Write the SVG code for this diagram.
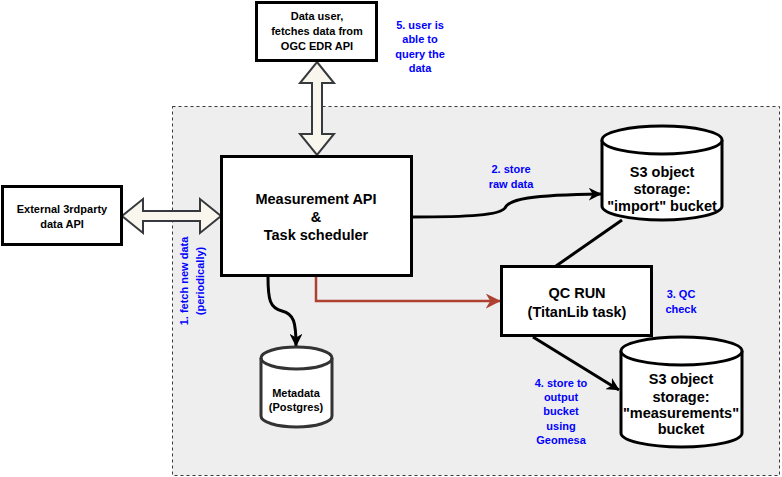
<svg xmlns="http://www.w3.org/2000/svg" width="782" height="477" viewBox="0 0 782 477">
<style>
text{font-family:"Liberation Sans",Arial,sans-serif;font-weight:bold;text-anchor:middle;}
.box{fill:#ffffff;stroke:#000000;stroke-width:3;}
.cyl{fill:#ffffff;stroke:#000000;stroke-width:3;}
.t11{font-size:11px;fill:#000000;}
.t14{font-size:14.5px;fill:#000000;}
.lbl{font-size:11px;fill:#0000ff;}
.dbl{fill:#f9f7ed;stroke:#36393d;stroke-width:2;stroke-linejoin:miter;}
.edge{fill:none;stroke:#000000;stroke-width:3;}
</style>
<defs>
<marker id="ah" viewBox="0 0 10 10" refX="9.5" refY="5" markerWidth="4.3" markerHeight="4.3" orient="auto" markerUnits="strokeWidth">
<path d="M0,0 L10,5 L0,10 L3,5 Z" fill="#000000"/>
</marker>
<marker id="ahr" viewBox="0 0 10 10" refX="9.5" refY="5" markerWidth="6" markerHeight="6" orient="auto" markerUnits="strokeWidth">
<path d="M0,0 L10,5 L0,10 L3,5 Z" fill="#ae4132"/>
</marker>
</defs>
<rect id="container" x="172.5" y="106.5" width="607" height="369" fill="#eeeeee" stroke="#36393d" stroke-width="1" stroke-dasharray="3,3"/>

<g id="connectors">
<polygon class="dbl" points="317,62 334,83 322,83 322,134 334,134 317,155 300,134 312,134 312,83 300,83"/>
<polygon class="dbl" points="122,216 143,199 143,211 200,211 200,199 221,216 200,233 200,221 143,221 143,233"/>
<path class="edge" d="M412,217 C470,217 500,215 505,208 C509,199 530,195 601,194" marker-end="url(#ah)"/>
<path class="edge" d="M622,220 L556,266"/>
<path d="M316,276 L316,301 L500,301" fill="none" stroke="#ae4132" stroke-width="2.5" marker-end="url(#ahr)"/>
<path class="edge" d="M268,277 C268,300 270,308 282,311 C294,314 296,322 296,346" marker-end="url(#ah)"/>
<path class="edge" d="M533,337 L619,390" marker-end="url(#ah)"/>
</g>

<g id="data-user">
<rect class="box" x="256.5" y="2.5" width="120" height="58"/>
<text class="t11" x="317" y="20">Data user,</text>
<text class="t11" x="317" y="35">fetches data from</text>
<text class="t11" x="317" y="50">OGC EDR API</text>
</g>

<g id="external-api">
<rect class="box" x="2.5" y="186.5" width="119" height="58"/>
<text class="t11" x="62" y="213">External 3rdparty</text>
<text class="t11" x="62" y="228">data API</text>
</g>

<g id="measurement-api">
<rect class="box" x="221.5" y="156.5" width="190" height="119"/>
<text class="t14" x="316" y="204">Measurement API</text>
<text class="t14" x="316" y="222">&amp;</text>
<text class="t14" x="316" y="240">Task scheduler</text>
</g>

<g id="s3-import">
<path class="cyl" d="M602,140 A60,14 0 0 1 722,140 L722,206 A60,14 0 0 1 602,206 Z"/>
<path class="cyl" d="M602,140 A60,14 0 0 0 722,140" fill="none"/>
<text class="t14" x="662" y="177">S3 object</text>
<text class="t14" x="662" y="194">storage:</text>
<text class="t14" x="662" y="211">"import" bucket</text>
</g>

<g id="qc-run">
<rect class="box" x="501.5" y="266.5" width="150" height="69"/>
<text class="t14" x="577" y="298">QC RUN</text>
<text class="t14" x="577" y="317">(TitanLib task)</text>
</g>

<g id="s3-measurements">
<path class="cyl" d="M621,351 A60.5,14 0 0 1 742,351 L742,433 A60.5,14 0 0 1 621,433 Z"/>
<path class="cyl" d="M621,351 A60.5,14 0 0 0 742,351" fill="none"/>
<text class="t14" x="681" y="384">S3 object</text>
<text class="t14" x="681" y="402">storage:</text>
<text class="t14" x="681" y="418">"measurements"</text>
<text class="t14" x="681" y="434">bucket</text>
</g>

<g id="metadata">
<path d="M261,358 A35.5,11 0 0 1 332,358 L332,416 A35.5,11 0 0 1 261,416 Z" fill="#ffffff" stroke="#333333" stroke-width="3"/>
<path d="M261,358 A35.5,11 0 0 0 332,358" fill="none" stroke="#333333" stroke-width="3"/>
<text class="t11" x="296" y="397">Metadata</text>
<text class="t11" x="296" y="411">(Postgres)</text>
</g>

<g id="labels">
<text class="lbl" x="420" y="29">5. user is</text>
<text class="lbl" x="420" y="43">able to</text>
<text class="lbl" x="420" y="58">query the</text>
<text class="lbl" x="420" y="72">data</text>
<text class="lbl" x="511" y="173">2. store</text>
<text class="lbl" x="511" y="188">raw data</text>
<text class="lbl" x="681" y="298">3. QC</text>
<text class="lbl" x="681" y="313">check</text>
<text class="lbl" x="561" y="387">4. store to</text>
<text class="lbl" x="561" y="401">output</text>
<text class="lbl" x="561" y="415">bucket</text>
<text class="lbl" x="561" y="430">using</text>
<text class="lbl" x="561" y="444">Geomesa</text>
<g transform="translate(192,281) rotate(-90)">
<text class="lbl" x="0" y="-4">1. fetch new data</text>
<text class="lbl" x="0" y="12">(periodically)</text>
</g>
</g>
</svg>
